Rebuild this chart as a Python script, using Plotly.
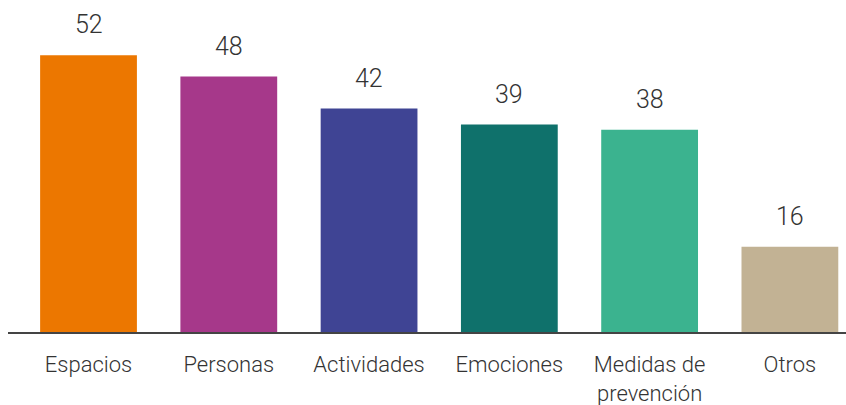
import plotly.graph_objects as go

categories = ["Espacios", "Personas", "Actividades", "Emociones", "Medidas de<br>prevención", "Otros"]
values = [52, 48, 42, 39, 38, 16]
colors = ["#EC7700", "#A6388A", "#3F4494", "#0F716B", "#3BB38F", "#C2B294"]

xs = list(range(len(categories)))

fig = go.Figure(
    go.Bar(
        x=xs,
        y=values,
        marker=dict(color=colors, line=dict(width=0)),
        width=0.69,
        hoverinfo="skip",
    )
)

# value labels above each bar
for xi, v in zip(xs, values):
    fig.add_annotation(
        x=xi, y=v, text=str(v), showarrow=False,
        yanchor="bottom", yshift=14,
        font=dict(family="Roboto", size=25, color="#333333", weight=300),
    )

fig.update_layout(
    width=846,
    height=405,
    margin=dict(l=8, r=0, t=0, b=73),
    plot_bgcolor="white",
    paper_bgcolor="white",
    showlegend=False,
    xaxis=dict(
        tickmode="array",
        tickvals=xs,
        ticktext=categories,
        range=[-0.574, 5.40],
        showline=True,
        linecolor="#444444",
        linewidth=1.5,
        showgrid=False,
        zeroline=False,
        ticks="",
        automargin=False,
        ticklabelstandoff=12,
        tickfont=dict(family="Roboto", size=22, color="#333333", weight=300),
    ),
    yaxis=dict(
        range=[0, 62.4],
        visible=False,
        showgrid=False,
        zeroline=False,
        automargin=False,
    ),
)

fig.write_html("out.html")
